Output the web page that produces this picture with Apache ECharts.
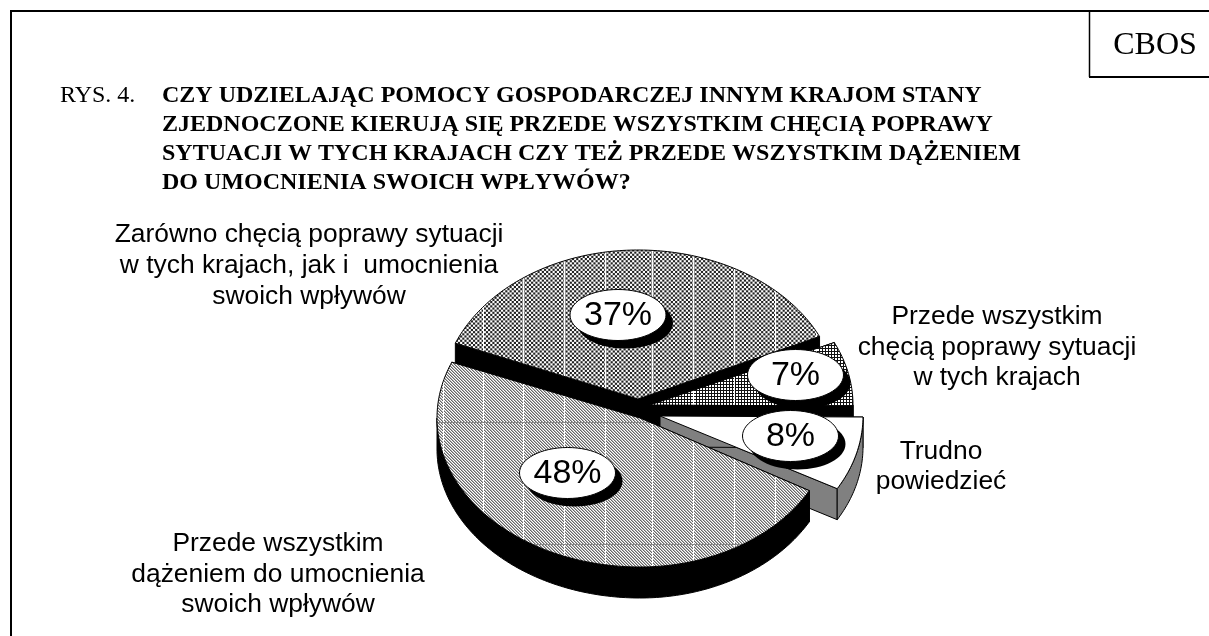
<!DOCTYPE html>
<html><head><meta charset="utf-8">
<style>html,body{margin:0;padding:0;background:#fff}#c{width:1209px;height:636px}</style>
<script src="https://cdn.jsdelivr.net/npm/echarts@6/dist/echarts.min.js"></script>
</head><body><div id="c"></div>
<script>
// ---- data ----
const categories = [
  'Przede wszystkim dążeniem do umocnienia swoich wpływów',
  'Trudno powiedzieć',
  'Przede wszystkim chęcią poprawy sytuacji w tych krajach',
  'Zarówno chęcią poprawy sytuacji w tych krajach, jak i umocnienia swoich wpływów'
];
const values = [48, 8, 7, 37];
const titleLines = [
  'CZY UDZIELAJĄC POMOCY GOSPODARCZEJ INNYM KRAJOM STANY',
  'ZJEDNOCZONE KIERUJĄ SIĘ PRZEDE WSZYSTKIM CHĘCIĄ POPRAWY',
  'SYTUACJI W TYCH KRAJACH CZY TEŻ PRZEDE WSZYSTKIM DĄŻENIEM',
  'DO UMOCNIENIA SWOICH WPŁYWÓW?'
];
const categoryLines = [
  ['Przede wszystkim', 'dążeniem do umocnienia', 'swoich wpływów'],
  ['Trudno', 'powiedzieć'],
  ['Przede wszystkim', 'chęcią poprawy sytuacji', 'w tych krajach'],
  ['Zarówno chęcią poprawy sytuacji', 'w tych krajach, jak i  umocnienia', 'swoich wpływów']
];
// ---- layout ----
const RY = 149, DEPTH = 31, START_ANGLE = 158;
const centers = [[640,418],[660,416],[650,405],[638,399]];
const radiiX = [[194,203],[203,203],[203,203],[200,197]]; // right, left
const bubbles = [[567.5,473],[790.5,436],[795.5,375],[618,315]];
const catPos = [[278,553],[941,461],[997,326],[309,244]]; // centre x, first baseline
const catStep = [30.5,30,30.5,31];
const drawOrder = [3,2,1,0];
const gridX = [279,320,361,402,443,483,523,564,605,652,693,734,775,816,857];
const gridY = [422,544];
const LABEL_SIZE = 26.4, TITLE_SIZE = 24;

function makeTexture(kind){
  const cv = document.createElement('canvas');
  cv.width = 1209; cv.height = 636;
  const g = cv.getContext('2d');
  g.fillStyle = '#fff'; g.fillRect(0,0,1209,636);
  if (kind === 'check'){
    const p = 2.15;
    g.fillStyle = '#222';
    for (let j=0;j*p<636;j++) for (let i=0;i*p<1209;i++)
      if ((i+j)%2===0) g.fillRect(i*p,j*p,p,p);
  } else if (kind === 'diag'){
    const tones = ['#666','#b4b4b4','#fff'];
    for (let y=0;y<636;y++) for (let x=0;x<1209;x++){
      g.fillStyle = tones[(x-y+6360)%3]; g.fillRect(x,y,1,1);
    }
  } else if (kind === 'grid'){
    g.fillStyle = '#111';
    for (let y=0;y<636;y++) for (let x=0;x<1209;x++)
      if (x%3===0||y%3===0) g.fillRect(x,y,1,1);
  }
  g.fillStyle = '#fff';
  gridX.forEach(x=>g.fillRect(x,0,1,636));
  if (kind==='diag'){ g.fillStyle='#888'; gridY.forEach(y=>g.fillRect(0,y,1209,1)); }
  return {image: cv, repeat: 'no-repeat'};
}
const fills = [makeTexture('diag'), '#fff', makeTexture('grid'), makeTexture('check')];
const sideFills = ['#000', '#808080', '#000', '#000'];

// slice angles come from the values
const total = values.reduce((a,b)=>a+b,0);
const spans = []; { let a = START_ANGLE; values.forEach(v=>{ const s=a, e=a+v/total*360; spans.push([s,e]); a=e; }); }
function pt(i, deg, dz){
  const c = centers[i], r = deg*Math.PI/180, cs = Math.cos(r);
  return [c[0]+(cs>=0?radiiX[i][0]:radiiX[i][1])*cs, c[1]-RY*Math.sin(r)+(dz||0)];
}
function arc(i, a, b, dz){ const n=Math.max(2,Math.ceil(Math.abs(b-a))); const out=[]; for(let k=0;k<=n;k++) out.push(pt(i,a+(b-a)*k/n,dz)); return out; }

function renderSlice(params, api){
  const i = api.value(0);
  const c = centers[i], [s,e] = spans[i];
  const children = [];
  const stroke = {stroke:'#000', lineWidth:1};
  const side = pts => children.push({type:'polygon', shape:{points:pts}, style:Object.assign({fill:sideFills[i]},stroke)});
  const A = [c[0],c[1]], B=[c[0],c[1]+DEPTH];
  side([A, pt(i,s), pt(i,s,DEPTH), B]);
  side([A, pt(i,e), pt(i,e,DEPTH), B]);
  // visible outer wall: the part of the arc on the viewer's side
  const lo = Math.max(s,180), hi = Math.min(e,360);
  if (hi > lo) side(arc(i,lo,hi,0).concat(arc(i,hi,lo,DEPTH)));
  children.push({type:'polygon', shape:{points:[A].concat(arc(i,s,e,0))}, style:Object.assign({fill:fills[i]},stroke)});
  return {type:'group', children};
}
function renderBubble(params, api){
  const i = api.value(0), b = bubbles[i];
  return {type:'group', children:[
    {type:'ellipse', shape:{cx:b[0]+7,cy:b[1]+8,rx:48,ry:25.5}, style:{fill:'#000'}},
    {type:'ellipse', shape:{cx:b[0],cy:b[1],rx:48,ry:25.5}, style:{fill:'#fff',stroke:'#000',lineWidth:1}},
    {type:'text', style:{text:api.value(1)+'%', x:b[0], y:b[1]+1, align:'center', verticalAlign:'middle',
      font:'34px "Liberation Sans"', fill:'#000'}}
  ]};
}
const graphics = [
  {type:'line', shape:{x1:10,y1:11,x2:1209,y2:11}, style:{stroke:'#000',lineWidth:2}},
  {type:'line', shape:{x1:11,y1:10,x2:11,y2:636}, style:{stroke:'#000',lineWidth:2}},
  {type:'line', shape:{x1:1089.5,y1:10,x2:1089.5,y2:77}, style:{stroke:'#000',lineWidth:1.5}},
  {type:'line', shape:{x1:1089,y1:77,x2:1209,y2:77}, style:{stroke:'#000',lineWidth:2}},
  {type:'text', style:{text:'CBOS', x:1155, y:46, align:'center', verticalAlign:'middle', font:'32px "Liberation Serif"', fill:'#000'}},
  {type:'text', style:{text:'RYS. 4.', x:60, y:103.5-8.2, align:'left', verticalAlign:'middle', font:TITLE_SIZE+'px "Liberation Serif"', fill:'#000'}}
];
titleLines.forEach((t,k)=>graphics.push({type:'text', style:{text:t, x:162, y:103.5+k*29-8.2, align:'left', verticalAlign:'middle', font:'bold '+TITLE_SIZE+'px "Liberation Serif"', fill:'#000'}}));
categoryLines.forEach((ls,i)=>ls.forEach((t,k)=>graphics.push({type:'text', style:{text:t, x:catPos[i][0], y:catPos[i][1]+k*catStep[i]-0.35*LABEL_SIZE, align:'center', verticalAlign:'middle', font:LABEL_SIZE+'px "Liberation Sans"', fill:'#000'}})));

const chart = echarts.init(document.getElementById('c'), null, {renderer:'canvas', width:1209, height:636});
chart.setOption({
  animation:false,
  backgroundColor:'#fff',
  graphic: graphics,
  series:[
    {type:'custom', coordinateSystem:'none', silent:true, z:2, renderItem:renderSlice,
      data: drawOrder.map(i=>({name:categories[i], value:[i, values[i]]}))},
    {type:'custom', coordinateSystem:'none', silent:true, z:3, renderItem:renderBubble,
      data: drawOrder.map(i=>({name:categories[i], value:[i, values[i]]}))}
  ]
});
</script></body></html>
